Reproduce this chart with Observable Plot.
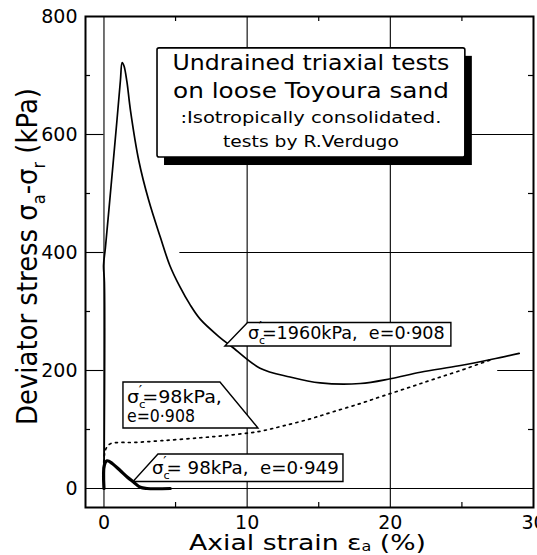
<!DOCTYPE html>
<html>
<head>
<meta charset="utf-8">
<script src="https://cdn.jsdelivr.net/npm/d3@7"></script>
<script src="https://cdn.jsdelivr.net/npm/@observablehq/plot@0.6"></script>
<style>
  html, body { margin: 0; padding: 0; background: #fff; overflow: hidden; }
</style>
</head>
<body>
<div id="chart"></div>
<script>
// ---- tick values ----
const xTicks = [0, 10, 20, 30];
const yTicks = [0, 200, 400, 600, 800];
const xMinor = [5, 15, 25];
const yMinor = [100, 300, 500, 700];
const xGrid = [0, 10, 20];

// ---- series: sigma_c' = 1960 kPa, e = 0.908 (solid) ----
const strain1960 = [0, 0.03, -0.03, 0.1, 0.5, 0.9, 1.15, 1.27, 1.4, 1.6, 1.85, 2.43, 3.13, 3.95, 4.6, 5.3, 6.0, 6.72, 8.0, 9.0, 10.9, 13.0, 15.1, 17.9, 20.0, 22.1, 24.8, 27.1, 29.0];
const stress1960 = [0, 350, 378, 408, 514, 622, 692, 722, 716, 690, 641, 556, 488, 425, 378, 342, 312, 287, 258, 239, 204, 189, 179, 178, 186, 197, 208, 219, 229];

// ---- series: sigma_c' = 98 kPa, e = 0.908 (dotted) ----
const strain98a = [0, 0, 0.15, 0.45, 1.2, 2.06, 4.0, 6.72, 9.0, 10.9, 12.5, 14.4, 16.0, 17.9, 19.5, 21.4, 23.0, 24.9, 27.1];
const stress98a = [0, 50, 68, 76, 78, 78, 81, 86, 91, 97, 106, 118, 130, 144, 157, 172, 185, 200, 219];

// ---- series: sigma_c' = 98 kPa, e = 0.949 (bold) ----
const strain98b = [0, 0.03, 0.22, 0.6, 1.15, 1.6, 2.06, 2.54, 3.0, 4.63];
const stress98b = [0, 40, 47, 42, 30, 20, 11, 2, 0, 0];

// ---- domains ----
const xDomain = [-1.29, 30];
const yDomain = [-32.2, 800];

// ---- tables built from the arrays ----
const toRows = (xs, ys) => xs.map((x, i) => ({x, y: ys[i]}));
const rows1960 = toRows(strain1960, stress1960);
const rows98a = toRows(strain98a, stress98a);
const rows98b = toRows(strain98b, stress98b);

// ---- layout ----
const W = 537, H = 555;
const mL = 85, mR = 4, mT = 16, mB = 48;
const pxPerX = (W - mL - mR) / (xDomain[1] - xDomain[0]);
const pxPerY = (H - mT - mB) / (yDomain[1] - yDomain[0]);
const tickLen = 5;
const tx = tickLen / pxPerX, ty = tickLen / pxPerY;

// horizontal grid / long ticks (partial lines as in the figure)
const gridH = [
  {y: 0, x1: xDomain[0], x2: xDomain[1]},
  {y: 200, x1: xDomain[0], x2: 0}, {y: 200, x1: 27.5, x2: xDomain[1]},
  {y: 400, x1: xDomain[0], x2: 0}, {y: 400, x1: 5.3, x2: xDomain[1]},
  {y: 600, x1: xDomain[0], x2: 0}, {y: 600, x1: 5, x2: xDomain[1]}
];

const FONT = "'DejaVu Sans', sans-serif";

const chart = Plot.plot({
  width: W, height: H,
  marginLeft: mL, marginRight: mR, marginTop: mT, marginBottom: mB,
  x: {domain: xDomain},
  y: {domain: yDomain},
  style: {fontFamily: FONT, fontSize: "19px", color: "black", background: "white", overflow: "hidden"},
  marks: [
    Plot.ruleX(xGrid, {stroke: "black", strokeWidth: 1.1}),
    Plot.ruleY(gridH, {y: "y", x1: "x1", x2: "x2", stroke: "black", strokeWidth: 1.1}),
    // minor inward ticks
    Plot.ruleY(yMinor, {x1: xDomain[0], x2: xDomain[0] + tx, stroke: "black", strokeWidth: 1.2}),
    Plot.ruleY(yMinor, {x1: xDomain[1] - tx, x2: xDomain[1], stroke: "black", strokeWidth: 1.2}),
    Plot.ruleX(xMinor, {y1: yDomain[0], y2: yDomain[0] + ty, stroke: "black", strokeWidth: 1.2}),
    Plot.ruleX(xMinor, {y1: yDomain[1] - ty, y2: yDomain[1], stroke: "black", strokeWidth: 1.2}),
    // curves
    Plot.line(rows98a, {x: "x", y: "y", stroke: "black", strokeWidth: 1.7, strokeDasharray: "2,4.5", curve: "catmull-rom"}),
    Plot.line(rows1960, {x: "x", y: "y", stroke: "black", strokeWidth: 1.7, curve: "catmull-rom"}),
    Plot.line(rows98b, {x: "x", y: "y", stroke: "black", strokeWidth: 3.2, curve: "catmull-rom"}),
    // axes
    Plot.axisY({ticks: yTicks, tickSize: 0, tickPadding: 8, label: null, fontSize: 19}),
    Plot.axisX({ticks: xTicks, tickSize: 0, tickPadding: 8, label: null, fontSize: 19}),
    Plot.frame({stroke: "black", strokeWidth: 2})
  ]
});
document.getElementById("chart").appendChild(chart);

// ---- annotations, placed through the plot's scales ----
const sx = chart.scale("x"), sy = chart.scale("y");
const X = v => sx.apply(v), Y = v => sy.apply(v);
const svg = d3.select(chart);
const g = svg.append("g").attr("font-family", FONT).attr("fill", "black");

// text fitted horizontally to a target width (anchor: "start" | "middle")
function fitted(parent, x, y, f, targetLen, anchor, build, rotate) {
  const grp = parent.append("g");
  const t = grp.append("text").attr("x", 0).attr("y", 0).attr("font-size", f + "px")
    .attr("text-anchor", anchor);
  build(t, f);
  const w = t.node().getBBox().width;
  const s = targetLen / w;
  grp.attr("transform", `translate(${x},${y})` + (rotate ? ` rotate(${rotate})` : "") + ` scale(${s},1)`);
  return grp;
}
const plain = txt => (t) => t.text(txt);
// σ with subscript (and optional prime above it)
function sigma(t, f, sub, prime) {
  t.append("tspan").text("σ");
  t.append("tspan").attr("font-size", (0.62 * f) + "px").attr("dy", 0.28 * f).text(sub);
  if (prime) {
    t.append("tspan").attr("font-size", (0.8 * f) + "px").attr("dx", -0.36 * f).attr("dy", -0.72 * f).text("′");
    return 0.44 * f;
  }
  return -0.28 * f;
}
const sigmaLabel = rest => (t, f) => {
  const d = sigma(t, f, "c", true);
  t.append("tspan").attr("dy", d).text(rest);
};

// Title box
const titleBox = {x1: 3.74, x2: 25.24, yTop: 746, yBottom: 561};
const tbx = X(titleBox.x1), tby = Y(titleBox.yTop);
const tbw = X(titleBox.x2) - tbx, tbh = Y(titleBox.yBottom) - tby;
g.append("rect").attr("x", tbx + 7).attr("y", tby + 8).attr("width", tbw).attr("height", tbh).attr("fill", "black");
g.append("rect").attr("x", tbx).attr("y", tby).attr("width", tbw).attr("height", tbh).attr("rx", 2)
  .attr("fill", "white").attr("stroke", "black").attr("stroke-width", 1.6);
const titleLines = [
  {t: "Undrained triaxial tests", dy: 22, f: 21, len: 277},
  {t: "on loose Toyoura sand", dy: 50, f: 21, len: 276},
  {t: ":Isotropically consolidated.", dy: 75, f: 16, len: 261},
  {t: "tests by R.Verdugo", dy: 99, f: 16, len: 176}
];
const tcx = tbx + tbw / 2;
titleLines.forEach(l => fitted(g, tcx, tby + l.dy, l.f, l.len, "middle", plain(l.t)));

// label: 1960 kPa
{
  const ax = X(8.48), ay = Y(240.7);
  const pts = [[22.7, -23.5], [226, -23.5], [226, 0], [0, 0]];
  g.append("polygon").attr("points", pts.map(p => [ax + p[0], ay + p[1]].join(",")).join(" "))
    .attr("fill", "white").attr("stroke", "black").attr("stroke-width", 1.4);
  fitted(g, ax + 23, ay - 7, 18, 197, "start", sigmaLabel("=1960kPa,  e=0·908"));
}
// label: 98 kPa, e=0.908
{
  const ax = X(10.79), ay = Y(101.7);
  const pts = [[-135, -46], [-38, -46], [0, 0], [-135, 0]];
  g.append("polygon").attr("points", pts.map(p => [ax + p[0], ay + p[1]].join(",")).join(" "))
    .attr("fill", "white").attr("stroke", "black").attr("stroke-width", 1.4);
  fitted(g, ax - 131, ay - 25, 18, 95, "start", sigmaLabel("=98kPa,"));
  fitted(g, ax - 131, ay - 6, 18, 68, "start", plain("e=0·908"));
}
// label: 98 kPa, e=0.949
{
  const ax = X(2.06), ay = Y(11);
  const pts = [[25, -27.5], [210, -27.5], [210, 0], [0, 0]];
  g.append("polygon").attr("points", pts.map(p => [ax + p[0], ay + p[1]].join(",")).join(" "))
    .attr("fill", "white").attr("stroke", "black").attr("stroke-width", 1.4);
  fitted(g, ax + 19, ay - 8, 18, 187, "start", sigmaLabel("= 98kPa,  e=0·949"));
}

// Axis labels
fitted(g, 307.5, 550, 22, 237, "middle", (t, f) => {
  t.append("tspan").text("Axial strain ε");
  t.append("tspan").attr("font-size", (0.6 * f) + "px").attr("dy", 0.06 * f).text("a");
  t.append("tspan").attr("dy", -0.06 * f).text(" (%)");
});
fitted(g, 37, 256.5, 28, 337, "middle", (t, f) => {
  t.append("tspan").text("Deviator stress ");
  let d = sigma(t, f, "a", false);
  t.append("tspan").attr("dy", d).text("-");
  d = sigma(t, f, "r", false);
  t.append("tspan").attr("dy", d).text(" (kPa)");
}, -90);
</script>
</body>
</html>
